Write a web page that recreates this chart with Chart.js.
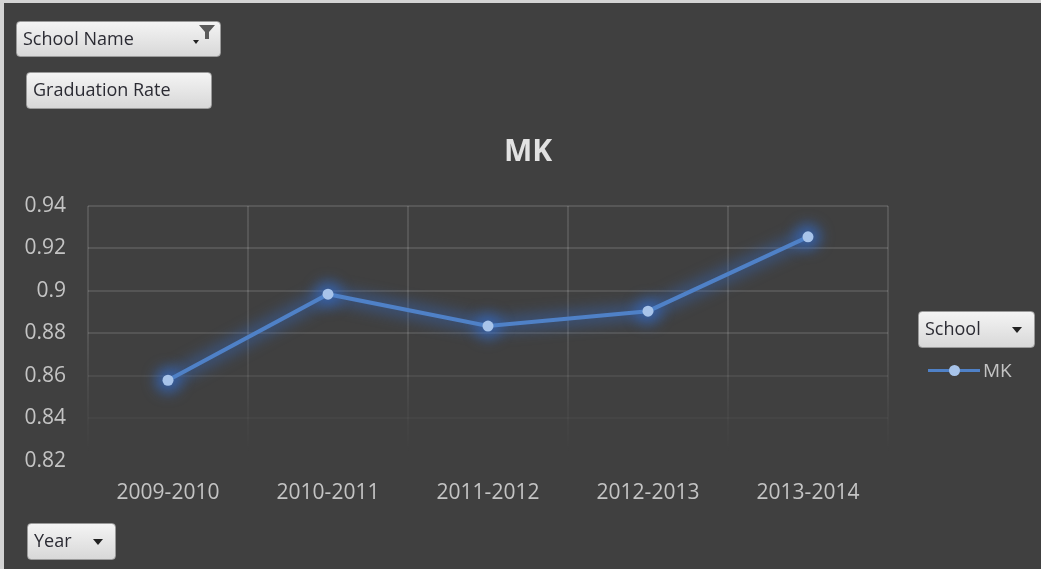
<!DOCTYPE html>
<html>
<head>
<meta charset="utf-8">
<script src="https://cdn.jsdelivr.net/npm/chart.js@4"></script>
<style>
    html, body { margin: 0; padding: 0; }
    body { width: 1041px; height: 569px; background: #404040; overflow: hidden; position: relative; font-family: 'Open Sans', sans-serif; }
    #wrap { position: absolute; left: 0; top: 0; width: 1041px; height: 569px; }
    .edge-top { position: absolute; left: 0; top: 0; width: 1041px; height: 3px; background: #d4d4d4; }
    .edge-left { position: absolute; left: 0; top: 0; width: 4px; height: 569px; background: #d4d4d4; }
    .btn {
        position: absolute; box-sizing: border-box;
        background: linear-gradient(#f4f4f4, #d8d8d8);
        border: 1px solid #9a9a9a; border-radius: 4px;
        color: #2b2b33; font-size: 18px; line-height: 33px; padding-left: 6px;
        white-space: nowrap;
    }
    .arrow { position: absolute; width: 0; height: 0; border-left: 5px solid transparent; border-right: 5px solid transparent; border-top: 6px solid #222; }
    .legend { position: absolute; left: 928px; top: 356px; height: 28px; width: 110px; }
    .legend .ln { position: absolute; left: 0; top: 13px; width: 52px; height: 3px; background: #4f81c7; }
    .legend .pt { position: absolute; left: 21px; top: 9px; width: 11px; height: 11px; border-radius: 50%; background: #a8c4ea; }
    .legend .tx { position: absolute; left: 55px; top: 0; color: #c4c4c4; font-size: 19px; line-height: 28px; }
</style>
</head>
<body>
<div id="wrap"><canvas id="gradChart" width="1041" height="569"></canvas></div>
<div class="edge-top"></div>
<div class="edge-left"></div>

<div class="btn" style="left:16px; top:21px; width:205px; height:36px;">School Name
    <div class="arrow" style="left:176px; top:18px; border-left-width:3px; border-right-width:3px; border-top-width:4px;"></div>
    <svg style="position:absolute; left:181px; top:2px;" width="18" height="18" viewBox="0 0 18 18">
        <path d="M1 1 H17 L11 8 V15 H7 V8 Z" fill="#5a5a5a"/>
    </svg>
</div>
<div class="btn" style="left:26px; top:72px; width:186px; height:37px;">Graduation Rate</div>
<div class="btn" style="left:918px; top:311px; width:117px; height:37px;">School
    <div class="arrow" style="left:93px; top:15px;"></div>
</div>
<div class="btn" style="left:27px; top:523px; width:89px; height:37px;">Year
    <div class="arrow" style="left:65px; top:15px;"></div>
</div>

<div class="legend"><div class="ln"></div><div class="pt"></div><div class="tx">MK</div></div>

<script>
// data
const years = ['2009-2010', '2010-2011', '2011-2012', '2012-2013', '2013-2014'];
const mkRate = [0.858, 0.8985, 0.8835, 0.8905, 0.9255];
const yTicks = [0.82, 0.84, 0.86, 0.88, 0.9, 0.92, 0.94];

document.addEventListener('DOMContentLoaded', () => {
    const ctx = document.getElementById('gradChart').getContext('2d');

    // grid fades out toward the bottom of the plot area
    let gridGrad = null, gradKey = '';
    const gridColor = (c) => {
        const area = c.chart.chartArea;
        if (!area) return 'rgba(255,255,255,0.12)';
        const key = area.top + ':' + area.bottom;
        if (!gridGrad || key !== gradKey) {
            gridGrad = c.chart.ctx.createLinearGradient(0, area.top, 0, area.bottom);
            gridGrad.addColorStop(0, 'rgba(255,255,255,0.12)');
            gridGrad.addColorStop(0.5, 'rgba(255,255,255,0.11)');
            gridGrad.addColorStop(0.7, 'rgba(255,255,255,0.06)');
            gridGrad.addColorStop(0.85, 'rgba(255,255,255,0.025)');
            gridGrad.addColorStop(0.97, 'rgba(255,255,255,0)');
            gradKey = key;
        }
        return gridGrad;
    };

    // soft blue halo along the line, using the points the library placed
    const glow = {
        id: 'glow',
        beforeDatasetsDraw(chart) {
            const c = chart.ctx;
            const pts = chart.getDatasetMeta(0).data;
            c.save();
            c.filter = 'blur(7px)';
            c.strokeStyle = 'rgba(50, 110, 210, 0.38)';
            c.lineWidth = 16;
            c.lineJoin = 'round';
            c.lineCap = 'round';
            c.beginPath();
            pts.forEach((p, i) => i ? c.lineTo(p.x, p.y) : c.moveTo(p.x, p.y));
            c.stroke();
            c.fillStyle = 'rgba(50, 115, 225, 0.5)';
            pts.forEach(p => { c.beginPath(); c.arc(p.x, p.y, 13, 0, Math.PI * 2); c.fill(); });
            c.restore();
        }
    };

    new Chart(ctx, {
        type: 'line',
        data: {
            labels: years,
            datasets: [{
                label: 'MK',
                data: mkRate,
                borderColor: '#4f81c7',
                borderWidth: 4,
                pointBackgroundColor: '#a8c4ea',
                pointBorderColor: '#a8c4ea',
                pointBorderWidth: 0,
                pointRadius: 5.5,
                tension: 0
            }]
        },
        options: {
            responsive: false,
            animation: false,
            layout: { padding: { left: 15, right: 0, top: 0, bottom: 0 } },
            plugins: {
                legend: { display: false },
                tooltip: { enabled: false },
                title: {
                    display: true,
                    text: 'MK',
                    color: '#e2e2e2',
                    font: { family: "'Open Sans', sans-serif", size: 30, weight: 'bold' },
                    padding: { top: 134, bottom: 36 }
                }
            },
            scales: {
                x: {
                    offset: true,
                    grid: { color: gridColor, lineWidth: 2, drawTicks: false, offset: true },
                    border: { display: false },
                    ticks: {
                        color: '#c4c4c4',
                        padding: 19,
                        font: { family: "'Open Sans', sans-serif", size: 21 }
                    },
                    afterFit: (s) => { s.height = 108; }
                },
                y: {
                    min: yTicks[0],
                    max: yTicks[yTicks.length - 1],
                    afterBuildTicks: (s) => { s.ticks = yTicks.map(v => ({ value: v })); },
                    grid: { color: gridColor, lineWidth: 2, drawTicks: false },
                    border: { display: false },
                    ticks: {
                        color: '#c4c4c4',
                        padding: 22,
                        font: { family: "'Open Sans', sans-serif", size: 21 },
                        callback: (v) => String(+Number(v).toFixed(2))
                    },
                    afterFit: (s) => { s.width = 73; }
                },
                yRight: {
                    position: 'right',
                    display: true,
                    grid: { display: false },
                    border: { display: false },
                    ticks: { display: false },
                    afterFit: (s) => { s.width = 153; }
                }
            }
        },
        plugins: [glow]
    });
});
</script>
</body>
</html>
